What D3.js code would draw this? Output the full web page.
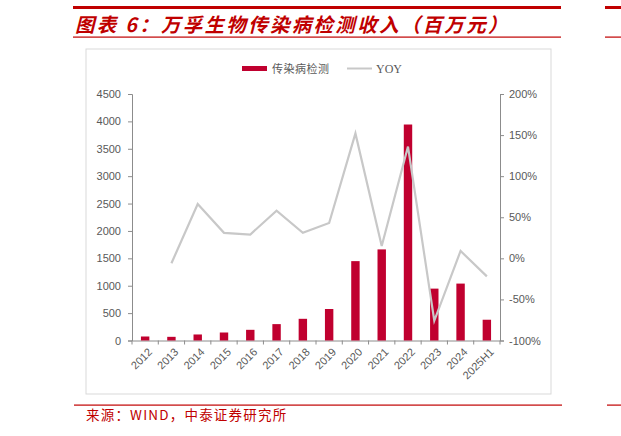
<!DOCTYPE html>
<html><head><meta charset="utf-8">
<script src="https://cdn.jsdelivr.net/npm/d3@7"></script>
<style>body{margin:0;background:#fff}svg{display:block}</style>
</head><body>
<script>
const categories = ["2012","2013","2014","2015","2016","2017","2018","2019","2020","2021","2022","2023","2024","2025H1"];
const revenue = [73, 67, 110, 146, 195, 299, 396, 575, 1449, 1663, 3943, 947, 1039, 379];
const yoy = [null, -6, 66, 31, 29, 58, 31, 43, 152, 15, 136, -76, 9, -22];
const leftTicks = [0,500,1000,1500,2000,2500,3000,3500,4000,4500];
const rightTicks = [-100,-50,0,50,100,150,200];
const titleText = "图表 6：万孚生物传染病检测收入（百万元）";
const sourceText = "来源：WIND，中泰证券研究所";
const legendNames = ["传染病检测","YOY"];

const W=621,H=436;
const svg=d3.select("body").append("svg").attr("width",W).attr("height",H);
const red="#C00000", barRed="#C0002F", axisC="#8C8C8C", txtC="#595959";

// header lines
svg.append("rect").attr("x",73).attr("y",6).attr("width",488).attr("height",3).attr("fill",red);
svg.append("rect").attr("x",605).attr("y",6).attr("width",16).attr("height",3).attr("fill",red);
svg.append("text").attr("x",75).attr("y",32).attr("fill",red)
  .style("font-family","'Noto Sans CJK SC'").style("font-weight","bold").style("font-style","italic")
  .style("font-size","19.5px").style("letter-spacing","2.3px").text(titleText);
svg.append("rect").attr("x",73).attr("y",36.5).attr("width",488).attr("height",1.2).attr("fill",red);
svg.append("rect").attr("x",605).attr("y",36.5).attr("width",16).attr("height",1.2).attr("fill",red);

// chart box
svg.append("rect").attr("x",86).attr("y",49).attr("width",465).attr("height",345)
  .attr("fill","none").attr("stroke","#D9D9D9").attr("stroke-width",1);

// scales
const x=d3.scaleBand().domain(categories).range([132,500]).paddingInner(0.68).paddingOuter(0.34);
const xb=d3.scaleBand().domain(categories).range([132,500]);
const yL=d3.scaleLinear().domain([0,4500]).range([340.5,94]);
const yR=d3.scaleLinear().domain([-100,200]).range([340.5,94]);

const axL=svg.append("g").attr("transform","translate(132,0)")
  .call(d3.axisLeft(yL).tickValues(leftTicks).tickSize(4).tickPadding(7).tickFormat(d3.format("d")));
const axR=svg.append("g").attr("transform","translate(500,0)")
  .call(d3.axisRight(yR).tickValues(rightTicks).tickSize(4).tickPadding(5).tickFormat(d=>d+"%"));
const axB=svg.append("g").attr("transform","translate(0,340.5)")
  .call(d3.axisBottom(xb).tickSize(4).tickSizeOuter(0).tickFormat(""));
axB.selectAll(".tick").remove();
axB.selectAll(".bt").data(categories.concat(["end"])).enter().append("line")
  .attr("x1",(d,i)=>132+i*xb.step()).attr("x2",(d,i)=>132+i*xb.step())
  .attr("y1",0).attr("y2",4).attr("stroke",axisC);
[axL,axR,axB].forEach(a=>{
  a.selectAll("path,line").attr("stroke",axisC);
  a.selectAll("text").attr("fill",txtC).style("font-family","'Liberation Sans',Arial").style("font-size","11px");
});

// x labels rotated
svg.append("g").selectAll("text").data(categories).enter().append("text")
  .attr("transform",d=>`translate(${xb(d)+xb.bandwidth()/2+5},350) rotate(-45)`)
  .attr("text-anchor","end").attr("dy","0.35em")
  .attr("fill",txtC).style("font-family","'Liberation Sans',Arial").style("font-size","11px")
  .text(d=>d);

// bars
svg.append("g").selectAll("rect").data(categories).enter().append("rect")
  .attr("x",d=>x(d)).attr("width",x.bandwidth())
  .attr("y",(d,i)=>yL(revenue[i])).attr("height",(d,i)=>yL(0)-yL(revenue[i]))
  .attr("fill",barRed);

// yoy line
const line=d3.line().defined(d=>d.v!=null).x(d=>xb(d.c)+xb.bandwidth()/2).y(d=>yR(d.v));
svg.append("path").datum(categories.map((c,i)=>({c,v:yoy[i]})))
  .attr("d",line).attr("fill","none").attr("stroke","#C8C8C8").attr("stroke-width",2.2);

// legend
const lg=svg.append("g");
lg.append("rect").attr("x",242).attr("y",66).attr("width",25).attr("height",5).attr("fill",barRed);
lg.append("text").attr("x",272).attr("y",72.5).attr("fill",txtC)
  .style("font-family","'Noto Sans CJK SC'").style("font-size","11px").style("letter-spacing","0.5px").text(legendNames[0]);
lg.append("line").attr("x1",347).attr("x2",372).attr("y1",68.5).attr("y2",68.5).attr("stroke","#C8C8C8").attr("stroke-width",2);
lg.append("text").attr("x",376).attr("y",72.5).attr("fill",txtC)
  .style("font-family","'Liberation Serif'").style("font-size","12px").text(legendNames[1]);

// source
svg.append("rect").attr("x",74).attr("y",404.5).attr("width",488).attr("height",1.2).attr("fill",red);
svg.append("rect").attr("x",607).attr("y",404.5).attr("width",14).attr("height",1.2).attr("fill",red);
svg.append("text").attr("x",86).attr("y",420).attr("fill",red)
  .style("font-family","'Noto Sans CJK SC'").style("font-size","13.5px").style("letter-spacing","1.2px").text(sourceText);
</script>
</body></html>
